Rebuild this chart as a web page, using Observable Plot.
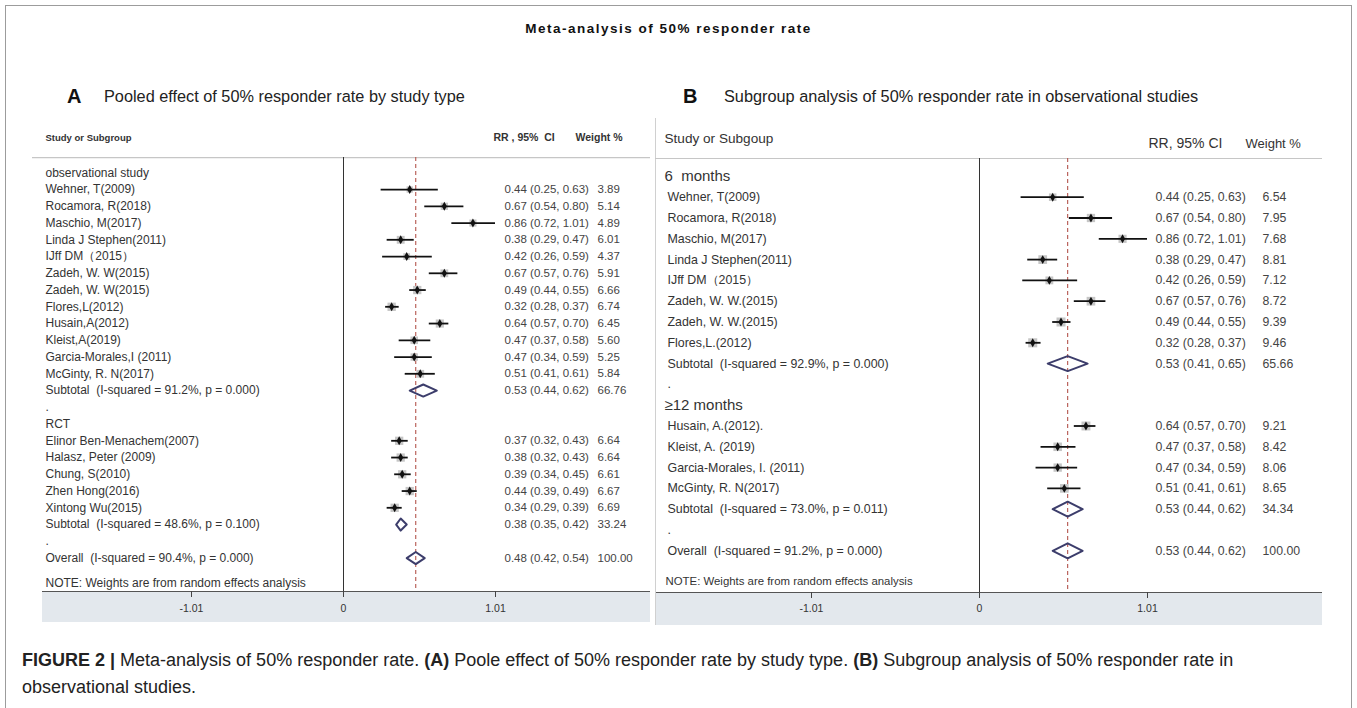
<!DOCTYPE html>
<html><head><meta charset="utf-8">
<script src="https://cdn.jsdelivr.net/npm/d3@7"></script>
<script src="https://cdn.jsdelivr.net/npm/@observablehq/plot@0.6"></script>
<style>
body{margin:0;background:#fff;font-family:"Liberation Sans",Arial,sans-serif;color:#222;}
#page{position:relative;width:1357px;height:708px;overflow:hidden;background:#fff;}
#border{position:absolute;left:5px;top:5px;width:1347px;height:720px;border:1px solid #9c9c9c;box-sizing:border-box;}
#title{position:absolute;left:0;width:1337px;top:21px;text-align:center;font-size:13.5px;font-weight:bold;letter-spacing:1.5px;color:#111;}
.ph{position:absolute;font-size:20px;font-weight:bold;color:#111;}
.pt{position:absolute;font-size:16.3px;color:#222;}
.strip{position:absolute;background:#e3e8ed;border-top:1px solid #555;box-sizing:border-box;}
#boxB{position:absolute;left:655px;top:118px;width:1px;height:507px;background:#d0d0d0;}
.panel{position:absolute;top:112px;}
.panel svg text{white-space:pre;}
#cap{position:absolute;left:22px;top:647px;font-size:18px;line-height:27px;color:#222;}
</style></head>
<body><div id="page">
<div id="border"></div>
<div id="title">Meta-analysis of 50% responder rate</div>
<div class="ph" style="left:67px;top:85px">A</div>
<div class="pt" style="left:104px;top:87px">Pooled effect of 50% responder rate by study type</div>
<div class="ph" style="left:683px;top:85px">B</div>
<div class="pt" style="left:724px;top:87px">Subgroup analysis of 50% responder rate in observational studies</div>
<div class="strip" style="left:42px;top:591px;width:608px;height:31px"></div>
<div class="strip" style="left:655px;top:592px;width:667px;height:33px"></div>
<div id="boxB"></div>
<div class="panel" id="pA" style="left:32px"></div>
<div class="panel" id="pB" style="left:655px"></div>
<div id="cap"><b>FIGURE 2 |</b> Meta-analysis of 50% responder rate. <b>(A)</b> Poole effect of 50% responder rate by study type. <b>(B)</b> Subgroup analysis of 50% responder rate in<br>observational studies.</div>
</div>
<script>
// ---------- Panel A data ----------
const labelsA = ["observational study","Wehner, T(2009)","Rocamora, R(2018)","Maschio, M(2017)","Linda J Stephen(2011)","IJff DM（2015）","Zadeh, W. W(2015)","Zadeh, W. W(2015)","Flores,L(2012)","Husain,A(2012)","Kleist,A(2019)","Garcia-Morales,I (2011)","McGinty, R. N(2017)","Subtotal  (I-squared = 91.2%, p = 0.000)",".","RCT","Elinor Ben-Menachem(2007)","Halasz, Peter (2009)","Chung, S(2010)","Zhen Hong(2016)","Xintong Wu(2015)","Subtotal  (I-squared = 48.6%, p = 0.100)",".","Overall  (I-squared = 90.4%, p = 0.000)"];
const kindsA  = ["g","s","s","s","s","s","s","s","s","s","s","s","s","t","b","g","s","s","s","s","s","t","b","t"];
const estA    = [null,0.44,0.67,0.86,0.38,0.42,0.67,0.49,0.32,0.64,0.47,0.47,0.51,0.53,null,null,0.37,0.38,0.39,0.44,0.34,0.38,null,0.48];
const loA     = [null,0.25,0.54,0.72,0.29,0.26,0.57,0.44,0.28,0.57,0.37,0.34,0.41,0.44,null,null,0.32,0.32,0.34,0.39,0.29,0.35,null,0.42];
const hiA     = [null,0.63,0.80,1.01,0.47,0.59,0.76,0.55,0.37,0.70,0.58,0.59,0.61,0.62,null,null,0.43,0.43,0.45,0.49,0.39,0.42,null,0.54];
const weightA = [null,3.89,5.14,4.89,6.01,4.37,5.91,6.66,6.74,6.45,5.60,5.25,5.84,66.76,null,null,6.64,6.64,6.61,6.67,6.69,33.24,null,100.00];
const headA   = ["Study or Subgroup","RR , 95%  CI","Weight %"];

// ---------- Panel B data ----------
const labelsB = ["6  months","Wehner, T(2009)","Rocamora, R(2018)","Maschio, M(2017)","Linda J Stephen(2011)","IJff DM（2015）","Zadeh, W. W.(2015)","Zadeh, W. W.(2015)","Flores,L.(2012)","Subtotal  (I-squared = 92.9%, p = 0.000)",".","≥12 months","Husain, A.(2012).","Kleist, A. (2019)","Garcia-Morales, I. (2011)","McGinty, R. N(2017)","Subtotal  (I-squared = 73.0%, p = 0.011)",".","Overall  (I-squared = 91.2%, p = 0.000)"];
const kindsB  = ["g","s","s","s","s","s","s","s","s","t","b","g","s","s","s","s","t","b","t"];
const estB    = [null,0.44,0.67,0.86,0.38,0.42,0.67,0.49,0.32,0.53,null,null,0.64,0.47,0.47,0.51,0.53,null,0.53];
const loB     = [null,0.25,0.54,0.72,0.29,0.26,0.57,0.44,0.28,0.41,null,null,0.57,0.37,0.34,0.41,0.44,null,0.44];
const hiB     = [null,0.63,0.80,1.01,0.47,0.59,0.76,0.55,0.37,0.65,null,null,0.70,0.58,0.59,0.61,0.62,null,0.62];
const weightB = [null,6.54,7.95,7.68,8.81,7.12,8.72,9.39,9.46,65.66,null,null,9.21,8.42,8.06,8.65,34.34,null,100.00];
const headB   = ["Study or Subgoup","RR, 95% CI","Weight %"];

const xTicks = [-1.01, 0, 1.01];
const noteText = "NOTE: Weights are from random effects analysis";

const FONT = '"Liberation Sans", Arial, sans-serif';
const f2 = v => v.toFixed(2);

function forest(c) {
  const rows = c.labels.map((label, i) => ({row: i, label, kind: c.kinds[i], est: c.est[i], lo: c.lo[i], hi: c.hi[i], w: c.weight[i]}));
  const studies = rows.filter(d => d.kind === "s");
  const pooled = rows.filter(d => d.kind === "t");
  const overall = pooled[pooled.length - 1];
  const dia = pooled.flatMap((d, k) => [
    {k, x: d.lo, y: d.row}, {k, x: d.est, y: d.row - c.dh},
    {k, x: d.hi, y: d.row}, {k, x: d.est, y: d.row + c.dh}
  ]);
  const ciText = d => `${f2(d.est)} (${f2(d.lo)}, ${f2(d.hi)})`;
  const txt = {frameAnchor: "left", textAnchor: "start", fill: "#333"};
  return Plot.plot({
    width: c.width, height: c.height,
    marginTop: c.mt, marginBottom: c.mb, marginLeft: 0, marginRight: 0,
    style: {background: "transparent", fontFamily: FONT, overflow: "visible"},
    x: {domain: [-1.01, 1.01], range: c.xr, axis: null, label: null},
    y: {domain: [0, rows.length - 1], range: c.yr, axis: null, label: null},
    r: {type: "sqrt", domain: [0, d3.max(studies, d => d.w)], range: [0, c.rmax]},
    marks: [
      Plot.ruleY([c.headRule], {stroke: "#c6c6c6", strokeWidth: 1.2}),
      Plot.ruleX([0], {stroke: "#333"}),
      Plot.ruleX([overall.est], {stroke: "#b4554d", strokeDasharray: "4,3", strokeWidth: 1.1}),
      Plot.dot(studies, {x: "est", y: "row", r: "w", symbol: "square", fill: "#c6c6c6"}),
      Plot.ruleY(studies, {y: "row", x1: "lo", x2: "hi", stroke: "#111", strokeWidth: 1.8}),
      Plot.dot(studies, {x: "est", y: "row", r: 2.7, symbol: "diamond", fill: "#111"}),
      Plot.line(dia, {x: "x", y: "y", z: "k", curve: "linear-closed", stroke: "#3c3d6b", strokeWidth: 2}),
      Plot.text(rows.filter(d => d.kind !== "g"), {...txt, y: "row", text: "label", dx: c.labelX, fontSize: c.fs}),
      Plot.text(rows.filter(d => d.kind === "g"), {...txt, y: "row", text: "label", dx: c.groupX, fontSize: c.gfs}),
      Plot.text(rows.filter(d => d.est != null), {...txt, y: "row", text: ciText, dx: c.ciX, fontSize: c.vfs, fill: "#444"}),
      Plot.text(rows.filter(d => d.w != null), {...txt, y: "row", text: d => f2(d.w), dx: c.wX, fontSize: c.vfs, fill: "#444"}),
      Plot.text([c.head[0]], {...txt, y: () => c.headRow0, text: d => d, dx: c.h0X, fontSize: c.hfs0, fontWeight: c.hfw}),
      Plot.text([c.head[1]], {...txt, y: () => c.headRow1, text: d => d, dx: c.h1X, fontSize: c.hfs1, fontWeight: c.hfw}),
      Plot.text([c.head[2]], {...txt, y: () => c.headRow1, text: d => d, dx: c.h2X, fontSize: c.hfs2, fontWeight: c.hfw}),
      Plot.text([noteText], {...txt, y: () => c.noteRow, text: d => d, dx: c.noteX, fontSize: c.nfs}),
      Plot.axisX(xTicks, {tickFormat: d => String(d), tickSize: 6, tickPadding: c.tp, fontSize: 10.5, stroke: "#444", fill: "#333", label: null})
    ]
  });
}

document.getElementById("pA").appendChild(forest({
  labels: labelsA, kinds: kindsA, est: estA, lo: loA, hi: hiA, weight: weightA, head: headA,
  width: 618, height: 516, mt: 45, mb: 37,
  xr: [311 - 152, 311 + 152], yr: [60.3, 60.3 + 23 * 16.75],
  rmax: 4.7, dh: 0.36, headRule: -0.91,
  labelX: 13, groupX: 13, ciX: 472, wX: 565,
  fs: 12, gfs: 12, vfs: 11.5,
  headRow0: -2.1, headRow1: -2.1, h0X: 13, h1X: 461, h2X: 543,
  hfs0: 9.5, hfs1: 10.5, hfs2: 10.5, hfw: "bold",
  noteRow: 24.5, noteX: 13, nfs: 12, tp: 7
}));

document.getElementById("pB").appendChild(forest({
  labels: labelsB, kinds: kindsB, est: estB, lo: loB, hi: hiB, weight: weightB, head: headB,
  width: 667, height: 516, mt: 46, mb: 36,
  xr: [324 - 168, 324 + 168], yr: [63.9, 63.9 + 18 * 20.8],
  rmax: 5.1, dh: 0.36, headRule: -0.86,
  labelX: 12, groupX: 9, ciX: 500, wX: 607,
  fs: 12.4, gfs: 15, vfs: 12.3,
  headRow0: -1.82, headRow1: -1.58, h0X: 9, h1X: 493, h2X: 590,
  hfs0: 13.6, hfs1: 14, hfs2: 13, hfw: "normal",
  noteRow: 19.45, noteX: 10, nfs: 11.4, tp: 6
}));
</script>
</body></html>
